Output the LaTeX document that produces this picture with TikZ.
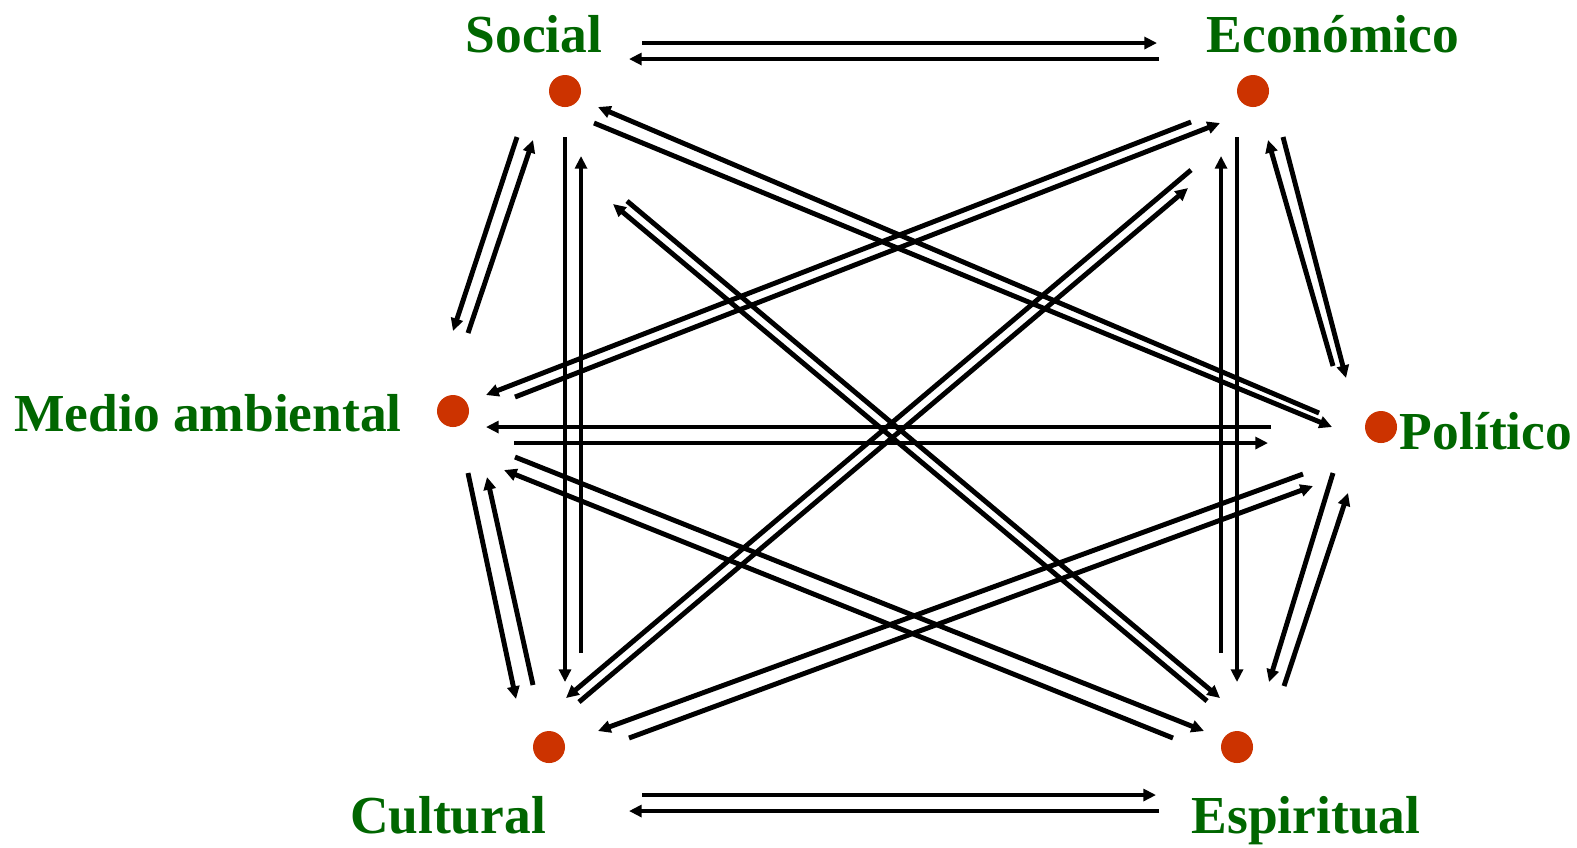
\documentclass[tikz,border=0pt]{standalone}
\usepackage{fontspec}
\setmainfont{Liberation Serif}
\usetikzlibrary{arrows.meta}
\definecolor{dotred}{HTML}{CC3300}
\definecolor{labgreen}{HTML}{006600}

\begin{document}
\begin{tikzpicture}[
    x=0.01cm, y=-0.01cm,
    dim/.style={circle, fill=dotred, inner sep=0pt, minimum size=0.32cm},
    dimlab/.style={text=labgreen, font=\fontsize{15.2}{18}\selectfont\bfseries,
        anchor=base, inner sep=0pt},
    flow/.style={-{Triangle[length=3.6pt, width=3.4pt]}, line width=1.4pt, black}
]
\useasboundingbox (0,0) rectangle (1577,847);

% --- Dimensions (dots) ---
\node[dim] (soc) at (565,91)  {};
\node[dim] (eco) at (1253,91) {};
\node[dim] (med) at (453,411) {};
\node[dim] (pol) at (1381,427) {};
\node[dim] (cul) at (549,747) {};
\node[dim] (esp) at (1237,747) {};

% --- Labels ---
\node[dimlab] (socl) at (534,52)  {Social};
\node[dimlab] (ecol) at (1333,52) {Económico};
\node[dimlab] (medl) at (208,431) {Medio ambiental};
\node[dimlab] (poll) at (1486,449) {Político};
\node[dimlab] (cull) at (448,833) {Cultural};
\node[dimlab] (espl) at (1306,833) {Espiritual};

% --- Horizontal pairs ---
\draw[flow] ([shift={(77,-48)}]soc.center) -- ([shift={(-96,-48)}]eco.center);
\draw[flow] ([shift={(-94,-32)}]eco.center) -- ([shift={(64,-32)}]soc.center);
\draw[flow] ([shift={(93,48)}]cul.center) -- ([shift={(-81,48)}]esp.center);
\draw[flow] ([shift={(-78,64)}]esp.center) -- ([shift={(80,64)}]cul.center);
\draw[flow] ([shift={(-110,0)}]pol.center) -- ([shift={(33,16)}]med.center);
\draw[flow] ([shift={(61,32)}]med.center) -- ([shift={(-113,16)}]pol.center);

% --- Outer sides ---
\draw[flow] ([shift={(-48,46)}]soc.center) -- ([shift={(0,-80)}]med.center);
\draw[flow] ([shift={(15,-78)}]med.center) -- ([shift={(-32,49)}]soc.center);
\draw[flow] ([shift={(15,62)}]med.center) -- ([shift={(-33,-48)}]cul.center);
\draw[flow] ([shift={(-16,-62)}]cul.center) -- ([shift={(34,66)}]med.center);
\draw[flow] ([shift={(30,46)}]eco.center) -- ([shift={(-35,-49)}]pol.center);
\draw[flow] ([shift={(-48,-61)}]pol.center) -- ([shift={(15,49)}]eco.center);
\draw[flow] ([shift={(-48,46)}]pol.center) -- ([shift={(32,-65)}]esp.center);
\draw[flow] ([shift={(47,-61)}]esp.center) -- ([shift={(-33,66)}]pol.center);

% --- Verticals ---
\draw[flow] ([shift={(0,46)}]soc.center) -- ([shift={(16,-65)}]cul.center);
\draw[flow] ([shift={(32,-94)}]cul.center) -- ([shift={(16,65)}]soc.center);
\draw[flow] ([shift={(-16,46)}]eco.center) -- ([shift={(0,-65)}]esp.center);
\draw[flow] ([shift={(-16,-94)}]esp.center) -- ([shift={(-32,65)}]eco.center);

% --- Diagonals ---
\draw[flow] ([shift={(29,32)}]soc.center) -- ([shift={(-49,0)}]pol.center);
\draw[flow] ([shift={(-62,-14)}]pol.center) -- ([shift={(33,16)}]soc.center);
\draw[flow] ([shift={(62,110)}]soc.center) -- ([shift={(-17,-49)}]esp.center);
\draw[flow] ([shift={(-30,-46)}]esp.center) -- ([shift={(48,113)}]soc.center);
\draw[flow] ([shift={(-62,31)}]eco.center) -- ([shift={(33,-16)}]med.center);
\draw[flow] ([shift={(62,-14)}]med.center) -- ([shift={(-33,32)}]eco.center);
\draw[flow] ([shift={(-62,79)}]eco.center) -- ([shift={(17,-49)}]cul.center);
\draw[flow] ([shift={(30,-45)}]cul.center) -- ([shift={(-65,97)}]eco.center);
\draw[flow] ([shift={(-78,47)}]pol.center) -- ([shift={(49,-16)}]cul.center);
\draw[flow] ([shift={(80,-9)}]cul.center) -- ([shift={(-68,59)}]pol.center);
\draw[flow] ([shift={(62,46)}]med.center) -- ([shift={(-33,-16)}]esp.center);
\draw[flow] ([shift={(-64,-9)}]esp.center) -- ([shift={(51,59)}]med.center);

\end{tikzpicture}
\end{document}
